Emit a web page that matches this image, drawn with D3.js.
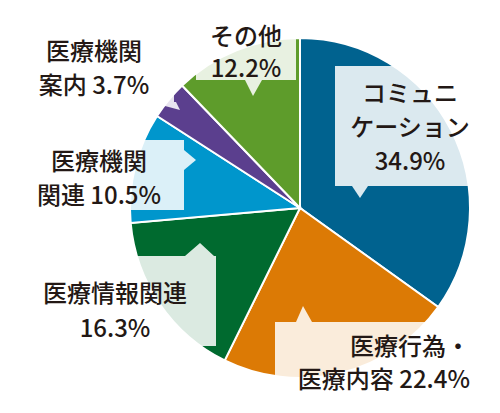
<!DOCTYPE html>
<html><head><meta charset="utf-8">
<script src="https://cdn.jsdelivr.net/npm/d3@7"></script>
<style>body{margin:0;background:#fff}text{font-family:"Noto Sans CJK JP";font-weight:500;fill:#231815}</style>
</head><body><svg id="c" width="500" height="413"></svg>
<script>
const categories=["コミュニケーション","医療行為・医療内容","医療情報関連","医療機関関連","医療機関案内","その他"];
const values=[34.9,22.4,16.3,10.5,3.7,12.2];
const colors=["#00628f","#dc7a05","#006a2f","#0096cc","#5b3f8e","#5e9c2b"];
const labelLines=[["コミュニ","ケーション","34.9%"],["医療行為・","医療内容 22.4%"],["医療情報関連","16.3%"],["医療機関","関連 10.5%"],["医療機関","案内 3.7%"],["その他","12.2%"]];
const svg=d3.select("#c");
const cx=300,cy=208,r=170;
const pie=d3.pie().sort(null).value(d=>d)(values);
const arc=d3.arc().innerRadius(0).outerRadius(r);
const g=svg.append("g").attr("transform",`translate(${cx},${cy})`);
g.selectAll("path").data(pie).join("path").attr("d",arc).attr("fill",(d,i)=>colors[i]).attr("stroke","#fff").attr("stroke-width",2);
// label boxes: [x,y,w,h, pointer path, text anchor x, first baseline, line height, anchor]
const boxes=[
 {x:335,y:66,w:135,h:120,p:"M352,186 L360,198 L368,186Z",tx:410,ty:102,lh:34,a:"middle"},
 {x:275,y:322,w:195,h:68,p:"M296,322 L303,306 L312,322Z",tx:470,ty:355,lh:33,a:"end"},
 {x:28,y:256,w:188,h:90,p:"M185,256 L200,252 L200,256Z M185,256 L200,243 L214,256Z",tx:115,ty:302,lh:35,a:"middle"},
 {x:14,y:140,w:170,h:70,p:"M184,150 L196,160 L184,170Z",tx:99,ty:170,lh:34,a:"middle"},
 {x:14,y:30,w:160,h:72,p:"M150,102 L176,102 L180,110Z",tx:94,ty:60,lh:34,a:"middle"},
 {x:196,y:20,w:100,h:60,p:"M245,80 L253,96 L262,80Z",tx:246,ty:45,lh:32,a:"middle"}
];
const lg=svg.append("g");
boxes.forEach((b,i)=>{
 lg.append("rect").attr("x",b.x).attr("y",b.y).attr("width",b.w).attr("height",b.h).attr("fill","#fff").attr("opacity",0.86);
 lg.append("path").attr("d",b.p).attr("fill","#fff").attr("opacity",0.86);
 const t=lg.append("text").attr("text-anchor",b.a).attr("font-size",24);
 labelLines[i].forEach((l,j)=>t.append("tspan").attr("x",b.tx).attr("y",b.ty+j*b.lh).text(l));
});
</script></body></html>
